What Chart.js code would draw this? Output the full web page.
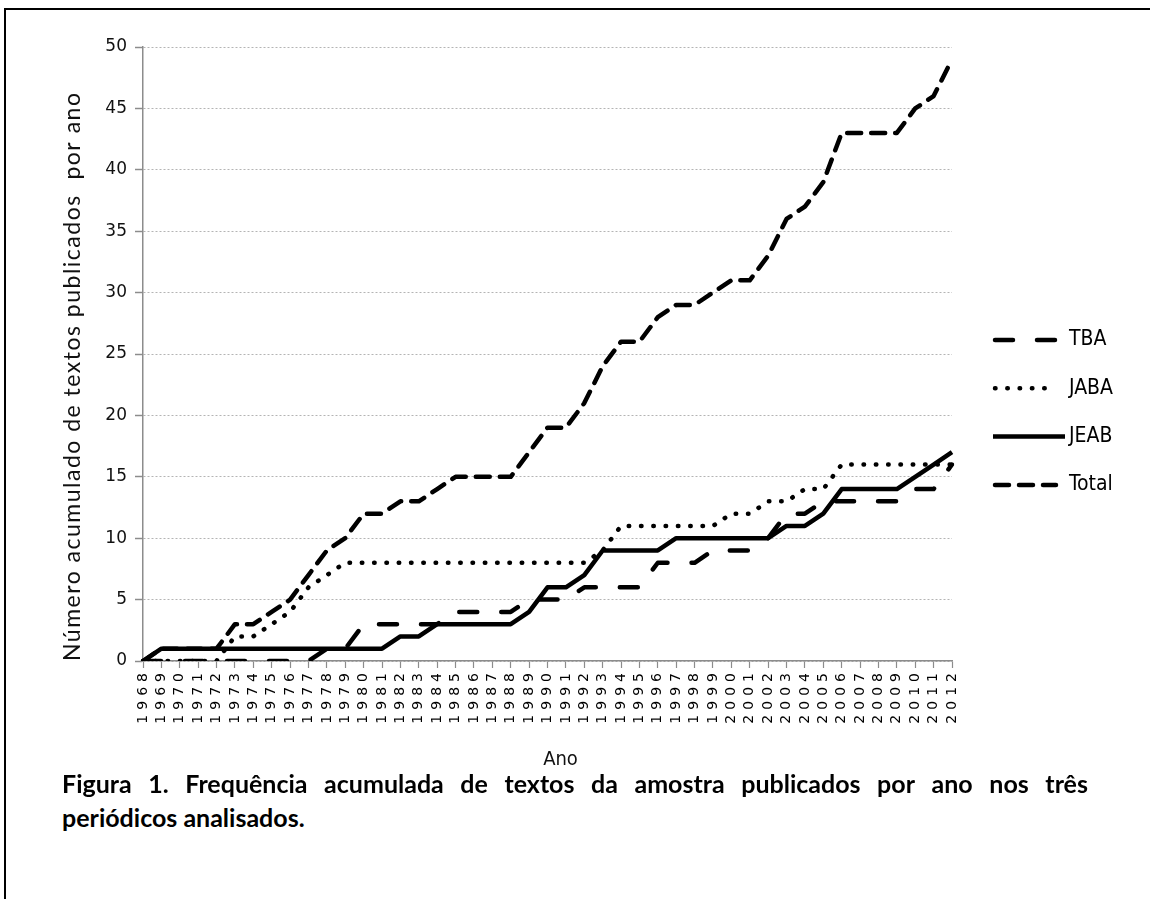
<!DOCTYPE html>
<html>
<head>
<meta charset="utf-8">
<script src="https://cdn.jsdelivr.net/npm/chart.js@4.4.1/dist/chart.umd.min.js"></script>
<style>
  html, body { margin: 0; padding: 0; background: #fff; }
  body { width: 1150px; height: 899px; position: relative; overflow: hidden; }
  #frame { position: absolute; left: 4px; top: 8px; width: 1160px; height: 900px;
           border-left: 2px solid #000; border-top: 2px solid #000; }
  #wrap { position: absolute; left: 0; top: 0; width: 1150px; height: 790px; }
  .cap { position: absolute; left: 62px; font: bold 25px Lato, "Liberation Sans", sans-serif; color: #000; line-height: 30px; }
  #cap1 { top: 768px; width: 1026px; display: flex; justify-content: space-between; }
  #cap2 { top: 802px; }
</style>
</head>
<body>
<div id="frame"></div>
<div id="wrap"><canvas id="c" width="1150" height="790"></canvas></div>
<div class="cap" id="cap1"></div>
<div class="cap" id="cap2">periódicos analisados.</div>
<script>
// ---- data ----
const years = ['1968','1969','1970','1971','1972','1973','1974','1975','1976','1977',
               '1978','1979','1980','1981','1982','1983','1984','1985','1986','1987',
               '1988','1989','1990','1991','1992','1993','1994','1995','1996','1997',
               '1998','1999','2000','2001','2002','2003','2004','2005','2006','2007',
               '2008','2009','2010','2011','2012'];
const tba   = [0,0,0,0,0,0,0,0,0,0, 1,1,3,3,3,3,3,4,4,4, 4,5,5,5,6,6,6,6,8,8, 8,9,9,9,10,12,12,13,13,13, 13,13,14,14,16];
const jaba  = [0,0,0,0,0,2,2,3,4,6, 7,8,8,8,8,8,8,8,8,8, 8,8,8,8,8,9,11,11,11,11, 11,11,12,12,13,13,14,14,16,16, 16,16,16,16,16];
const jeab  = [0,1,1,1,1,1,1,1,1,1, 1,1,1,1,2,2,3,3,3,3, 3,4,6,6,7,9,9,9,9,10, 10,10,10,10,10,11,11,12,14,14, 14,14,15,16,17];
const total = [0,1,1,1,1,3,3,4,5,7, 9,10,12,12,13,13,14,15,15,15, 15,17,19,19,21,24,26,26,28,29, 29,30,31,31,33,36,37,39,43,43, 43,43,45,46,49];
const seriesNames = ['TBA', 'JABA', 'JEAB', 'Total'];
const yTicks = [0, 5, 10, 15, 20, 25, 30, 35, 40, 45, 50];
const yTitle = 'Número acumulado de textos publicados  por ano';
const xTitle = 'Ano';
const caption1 = 'Figura 1. Frequência acumulada de textos da amostra publicados por ano nos três';

// caption, first line justified word by word
const cap1 = document.getElementById('cap1');
caption1.split(' ').forEach(w => { const s = document.createElement('span'); s.textContent = w; cap1.appendChild(s); });

const X_LABEL_SPACING = 5;
const Y_TITLE_SPACING = 1.5;
const X_TITLE_SHIFT = 13;

function withSpacing(scale, method, spacing) {
  const orig = scale[method];
  scale[method] = function (...args) {
    const c = this.ctx;
    const prev = c.letterSpacing;
    c.letterSpacing = spacing + 'px';
    orig.apply(this, args);
    c.letterSpacing = prev || '0px';
  };
}

const fixPlugin = {
  id: 'fixPlugin',
  beforeDraw(chart) {
    const sx = chart.scales.x, sy = chart.scales.y;
    if (sx && !sx._patched) {
      withSpacing(sx, 'drawLabels', X_LABEL_SPACING);
      const origT = sx.drawTitle;
      sx.drawTitle = function (...a) {
        this.ctx.save(); this.ctx.translate(X_TITLE_SHIFT, 0);
        origT.apply(this, a);
        this.ctx.restore();
      };
      sx._patched = true;
    }
    if (sy && !sy._patched) {
      withSpacing(sy, 'drawTitle', Y_TITLE_SPACING);
      sy._patched = true;
    }
  },
  afterDraw(chart) {
    // legend drawn on the right, using each dataset's own line style
    const ctx = chart.ctx;
    const x0 = chart.chartArea.right + 41;
    const y0 = 340, dy = 48.3;
    chart.data.datasets.forEach((ds, i) => {
      const y = y0 + i * dy;
      ctx.save();
      ctx.strokeStyle = ds.borderColor;
      ctx.lineWidth = ds.borderWidth;
      ctx.lineCap = ds.borderCapStyle || 'butt';
      ctx.setLineDash(ds.borderDash || []);
      ctx.beginPath();
      if (ds.borderCapStyle === 'round') { ctx.moveTo(x0 + 2, y); ctx.lineTo(x0 + 63, y); }
      else { ctx.moveTo(x0, y); ctx.lineTo(x0 + 72, y); }
      ctx.stroke();
      ctx.setLineDash([]);
      ctx.fillStyle = '#000';
      ctx.font = '21px "DejaVu Sans Condensed", "Liberation Sans", sans-serif';
      ctx.textBaseline = 'middle';
      ctx.textAlign = 'left';
      ctx.fillText(ds.label, x0 + 76, y);
      ctx.restore();
    });
  }
};

const mk = (label, data, dash, width, cap) => ({
  label, data,
  borderColor: '#000', backgroundColor: '#000',
  borderWidth: width, borderDash: dash, borderCapStyle: cap, borderJoinStyle: 'round',
  pointRadius: 0, pointHoverRadius: 0, tension: 0, fill: false
});

new Chart(document.getElementById('c'), {
  type: 'line',
  data: {
    labels: years,
    datasets: [
      mk(seriesNames[0], tba, [18, 24], 4.5, 'round'),
      mk(seriesNames[1], jaba, [0.5, 11.8], 4.5, 'round'),
      mk(seriesNames[2], jeab, [], 4.5, 'butt'),
      mk(seriesNames[3], total, [14, 10], 4.5, 'round')
    ]
  },
  options: {
    responsive: false,
    animation: false,
    events: [],
    layout: { padding: { top: 47, right: 198, bottom: 0, left: 0 } },
    plugins: { legend: { display: false }, tooltip: { enabled: false } },
    scales: {
      x: {
        offset: false,
        afterFit: s => { s.height = 129; },
        grid: { drawOnChartArea: false, drawTicks: true, tickLength: 7, tickColor: '#8c8c8c', tickWidth: 1.2 },
        border: { color: '#8c8c8c', width: 1.5 },
        ticks: {
          autoSkip: false, minRotation: 90, maxRotation: 90, padding: 0, color: '#000',
          font: { family: '"DejaVu Sans", sans-serif', size: 14 }
        },
        title: {
          display: true, text: xTitle, color: '#111',
          font: { family: '"DejaVu Sans Condensed", "Liberation Sans", sans-serif', size: 20 },
          padding: { top: 0, bottom: 18 }
        }
      },
      y: {
        min: 0, max: 50,
        afterFit: s => { s.width = 143; },
        afterBuildTicks: s => { s.ticks = yTicks.map(v => ({ value: v })); },
        grid: { color: '#b4b4b4', lineWidth: 1, drawTicks: true, tickLength: 8, tickColor: '#8c8c8c', tickWidth: 1.5 },
        border: { color: '#8c8c8c', width: 1.5, dash: [2, 2] },
        ticks: {
          padding: 8, color: '#111',
          font: { family: '"DejaVu Sans", sans-serif', size: 17 }
        },
        title: {
          display: true, text: yTitle, color: '#111', align: 'start',
          font: { family: 'Lato, sans-serif', size: 23 },
          padding: { top: 59, bottom: 0 }
        }
      }
    }
  },
  plugins: [fixPlugin]
});
</script>
</body>
</html>
